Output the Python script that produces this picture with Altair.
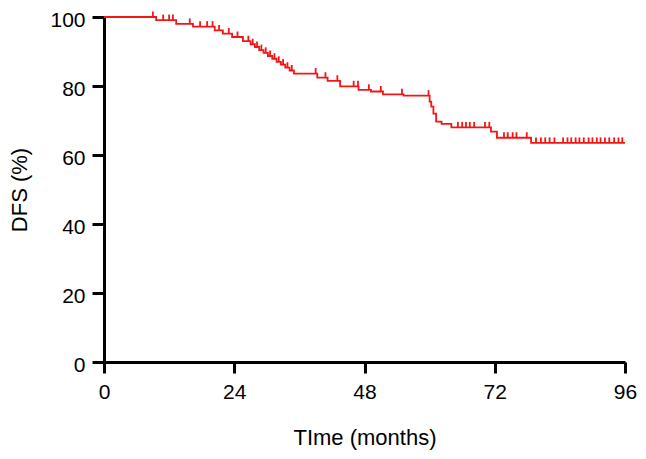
import altair as alt
import pandas as pd

# Kaplan-Meier step curve (month, DFS % after the step)
step_months = [0, 9.6, 13.3, 16.4, 20.4, 21.9, 23.6, 25.6,
               27.0, 27.8, 28.6, 29.4, 30.2, 31.0, 31.8, 32.6, 33.4, 34.2, 35.0,
               39.3, 41.2, 43.5, 46.9, 49.2, 51.4, 55.2,
               60.0, 60.3, 60.7, 61.2, 62.2, 64.0, 71.3, 72.4, 78.7, 96]
step_dfs = [100, 99.1, 98.0, 97.2, 96.1, 95.2, 94.2, 93.0,
            92.1, 91.3, 90.4, 89.6, 88.7, 87.9, 87.0, 86.2, 85.3, 84.5, 83.6,
            82.4, 81.5, 79.9, 78.9, 78.4, 77.6, 77.2,
            75.5, 74.0, 72.0, 69.7, 69.0, 68.0, 66.8, 65.0, 63.5, 63.5]

# Censoring marks (months)
censor_months = [9.0, 10.9, 12.0, 12.7, 15.8, 17.7, 19.0, 20.0, 21.2, 23.0, 24.6,
                 26.6, 27.4, 28.2, 29.0, 29.8, 30.6, 31.4, 32.2, 33.0, 33.8, 34.6,
                 39.0, 40.8, 43.0, 46.0, 46.8, 48.8, 51.0, 54.9, 59.8,
                 65.2, 66.0, 66.7, 67.4, 68.2, 70.2, 71.0, 73.7, 74.4, 75.3, 76.0, 77.9,
                 79.6, 80.5, 81.3, 82.1, 83.0,
                 84.6, 85.4, 86.1, 86.9, 87.6, 88.4, 89.3, 90.0, 90.8, 91.5, 92.3,
                 93.1, 94.0, 94.8, 95.5]

x_ticks = [0, 24, 48, 72, 96]
y_ticks = [0, 20, 40, 60, 80, 100]


def surv_at(t):
    s = step_dfs[0]
    for m, v in zip(step_months, step_dfs):
        if m <= t:
            s = v
    return s


curve = pd.DataFrame({"month": step_months, "dfs": step_dfs})
cens = pd.DataFrame({"month": censor_months,
                     "dfs": [surv_at(t) for t in censor_months]})
cens["top"] = cens["dfs"] + 1.6

RED = "#f21616"
FONT = "Liberation Sans"

x_scale = alt.Scale(domain=[0, 96], nice=False, zero=False)
y_scale = alt.Scale(domain=[0, 100], nice=False)

common = dict(grid=False, labelFontSize=21, titleFontSize=22,
              tickWidth=3, domainWidth=3, domainColor="black",
              tickColor="black", labelColor="black", titleColor="black",
              titleFontWeight="normal", labelFont=FONT, titleFont=FONT,
              labelFlush=False)

x_axis = alt.Axis(values=x_ticks, title="TIme (months)", titlePadding=25,
                  labelPadding=8, tickSize=11, **common)
y_axis = alt.Axis(values=y_ticks, title="DFS (%)", titlePadding=18,
                  labelPadding=7, tickSize=12, labelOffset=3, **common)

line = alt.Chart(curve).mark_line(interpolate="step-after", color=RED,
                                  strokeWidth=1.8).encode(
    x=alt.X("month:Q", scale=x_scale, axis=x_axis),
    y=alt.Y("dfs:Q", scale=y_scale, axis=y_axis),
)

ticks = alt.Chart(cens).mark_rule(color=RED, strokeWidth=1.8).encode(
    x=alt.X("month:Q", scale=x_scale),
    y=alt.Y("dfs:Q", scale=y_scale),
    y2="top:Q",
)

chart = (line + ticks).properties(
    width=521, height=345,
    autosize="none",
    background="white",
    padding={"left": 96, "top": 9, "right": 13, "bottom": 89},
).configure_view(stroke="transparent", strokeWidth=0)

chart.save("out.html", embed_options={"renderer": "svg", "actions": False})
